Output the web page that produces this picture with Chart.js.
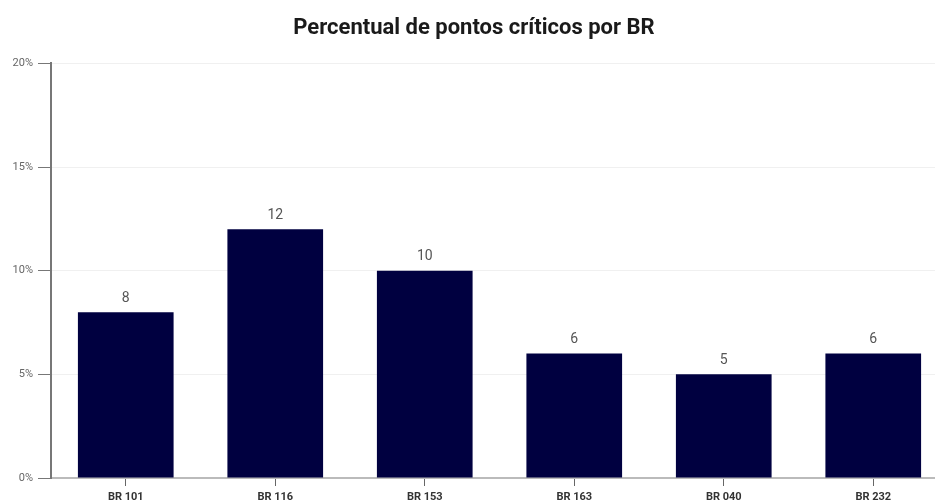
<!DOCTYPE html>
<html>
<head>
<meta charset="utf-8">
<script src="https://cdn.jsdelivr.net/npm/chart.js@4"></script>
<style>
html,body{margin:0;padding:0;background:#fff;overflow:hidden;}
#wrap{width:935px;height:504px;overflow:hidden;position:relative;}
#inner{width:948px;height:504px;position:absolute;left:0;top:0;}
</style>
</head>
<body>
<div id="wrap"><div id="inner"><canvas id="c" width="948" height="504"></canvas></div></div>
<script>
const titleText = 'Percentual de pontos críticos por BR';
const categories = ['BR 101','BR 116','BR 153','BR 163','BR 040','BR 232'];
const values = [8, 12, 10, 6, 5, 6];
const yTicks = [0, 5, 10, 15, 20];

const valueLabels = {
  id: 'valueLabels',
  afterDatasetsDraw(chart) {
    const ctx = chart.ctx;
    const meta = chart.getDatasetMeta(0);
    ctx.save();
    ctx.font = '14px Roboto';
    ctx.fillStyle = '#555';
    ctx.textAlign = 'center';
    ctx.textBaseline = 'bottom';
    meta.data.forEach((bar, i) => {
      ctx.fillText(String(values[i]), bar.x, bar.y - 7);
    });
    ctx.restore();
  }
};

new Chart(document.getElementById('c'), {
  type: 'bar',
  data: {
    labels: categories,
    datasets: [{
      data: values,
      backgroundColor: '#000040',
      borderWidth: 0,
      barPercentage: 0.8,
      categoryPercentage: 0.8
    }]
  },
  options: {
    responsive: false,
    animation: false,
    layout: { padding: 0 },
    plugins: {
      legend: { display: false },
      tooltip: { enabled: false },
      title: {
        display: true,
        text: titleText,
        color: '#1a1a1a',
        font: { family: 'Roboto', size: 22, weight: 'bold' },
        padding: { top: 15, bottom: 22 }
      }
    },
    scales: {
      x: {
        grid: { drawOnChartArea: false, offset: false, tickLength: 8, tickColor: '#666', tickWidth: 1 },
        border: { color: '#bbb', width: 2 },
        ticks: { color: '#333', font: { family: 'Roboto', size: 11, weight: 'bold' }, padding: 5 },
        afterFit(s) { s.height = 26; }
      },
      y: {
        min: 0, max: 20,
        afterBuildTicks(s) { s.ticks = yTicks.map(v => ({ value: v })); },
        grid: { color: '#f0f0f0', tickColor: '#777', tickLength: 13, lineWidth: 1 },
        border: { color: '#777', width: 2 },
        ticks: { color: '#666', font: { family: 'Roboto', size: 11 }, padding: 5,
          callback: v => v + '%' },
        afterFit(s) { s.width = 51; }
      }
    }
  },
  plugins: [valueLabels]
});
</script>
</body>
</html>
